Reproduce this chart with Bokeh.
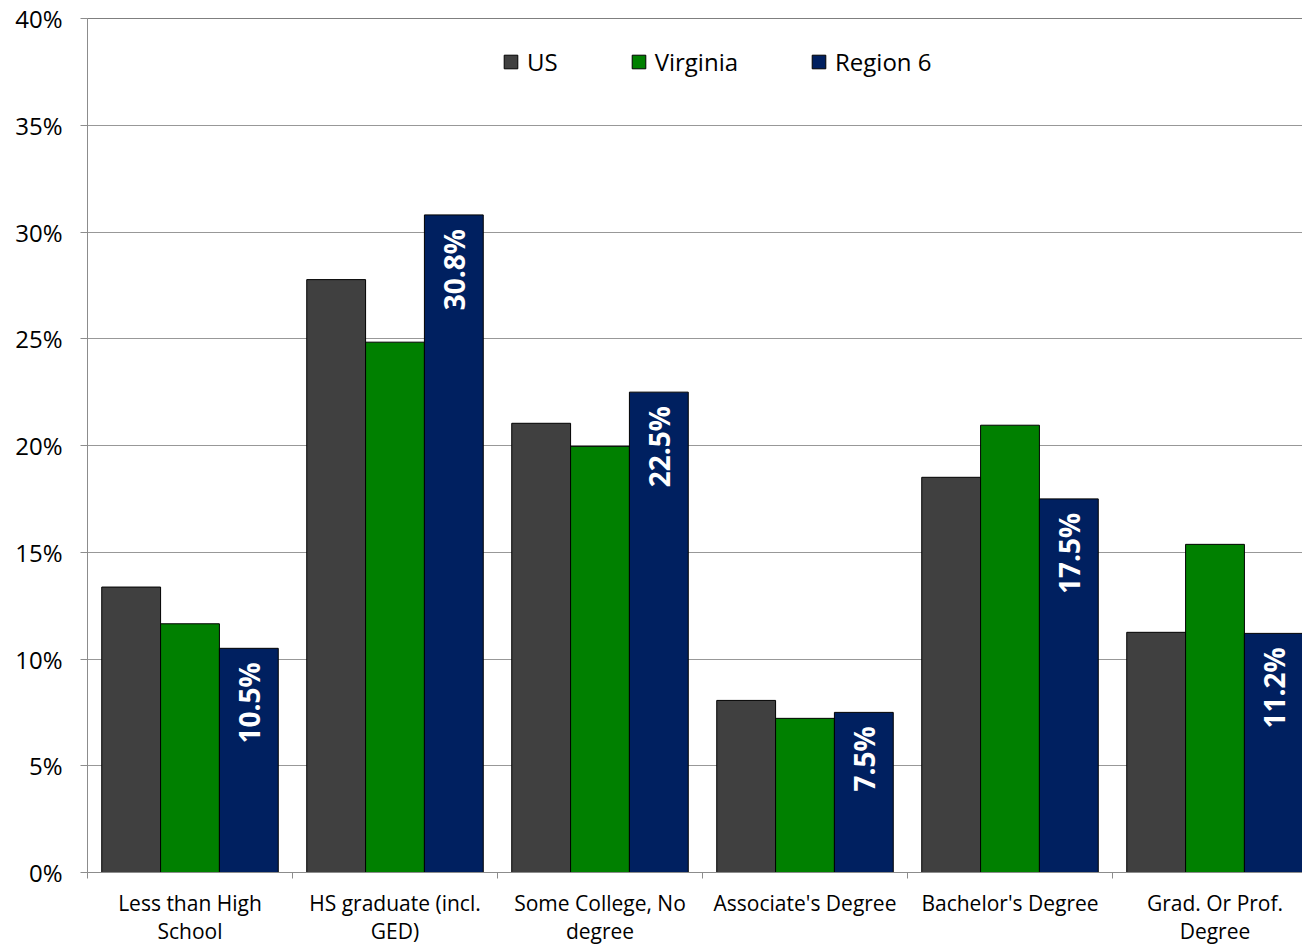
import math
from bokeh.plotting import figure
from bokeh.models import ColumnDataSource, Range1d, FixedTicker, Span, Legend, LegendItem
from bokeh.core.properties import value
from bokeh.embed import file_html
from bokeh.resources import INLINE

categories = ["Less than High\nSchool", "HS graduate (incl.\nGED)", "Some College, No\ndegree",
              "Associate's Degree", "Bachelor's Degree", "Grad. Or Prof.\nDegree"]
us = [13.37, 27.77, 21.04, 8.06, 18.51, 11.25]
virginia = [11.65, 24.84, 19.96, 7.22, 20.95, 15.37]
region6 = [10.5, 30.8, 22.5, 7.5, 17.5, 11.2]
series_names = ["US", "Virginia", "Region 6"]
colors = ["#404040", "#008000", "#002060"]
y_ticks = [0, 5, 10, 15, 20, 25, 30, 35, 40]

FONT = "Open Sans"
n = len(categories)
centers = [i + 0.5 for i in range(n)]
bw = 0.287
offsets = [-bw, 0.0, bw]

p = figure(output_backend="svg", toolbar_location=None,
           frame_width=1215, frame_height=854,
           min_border_left=87, min_border_right=0, min_border_top=18, min_border_bottom=70,
           x_range=Range1d(0, 1215 / 205), y_range=Range1d(0, 40))
p.outline_line_color = None
p.background_fill_color = "white"

renderers = []
for vals, off, col in zip([us, virginia, region6], offsets, colors):
    src = ColumnDataSource(dict(x=[c + off for c in centers], top=vals))
    r = p.vbar(x="x", top="top", width=bw, bottom=0, source=src,
               fill_color=col, line_color="black", line_width=1)
    renderers.append(r)

# data labels for Region 6
lab_src = ColumnDataSource(dict(x=[c + bw for c in centers], y=region6,
                                t=["%.1f%%" % v for v in region6]))
p.text(x="x", y="y", text="t", source=lab_src, angle=math.pi / 2,
       text_align="right", text_baseline="middle", y_offset=14,
       text_color="white", text_font=value(FONT), text_font_style="bold",
       text_font_size="28px")

# grid
p.xgrid.grid_line_color = None
p.ygrid.grid_line_color = "#989898"
p.ygrid.grid_line_width = 1
p.add_layout(Span(location=40, dimension="width", line_color="black", line_width=1))

# y axis
p.yaxis.ticker = FixedTicker(ticks=y_ticks, minor_ticks=[])
p.yaxis.major_label_overrides = {t: f"{t}%" for t in y_ticks}
p.yaxis.axis_line_color = "#8c8c8c"
p.yaxis.major_tick_line_color = "#8c8c8c"
p.yaxis.major_tick_out = 7
p.yaxis.major_tick_in = 0
p.yaxis.minor_tick_line_color = None
p.yaxis.major_label_standoff = 18
p.yaxis.major_label_text_font = FONT
p.yaxis.major_label_text_font_size = "24px"
p.yaxis.major_label_text_color = "black"

# x axis
p.xaxis.ticker = FixedTicker(ticks=centers, minor_ticks=[float(i) for i in range(n)])
p.xaxis.major_label_overrides = {c: lab for c, lab in zip(centers, categories)}
p.xaxis.axis_line_color = "#8c8c8c"
p.xaxis.major_tick_line_color = None
p.xaxis.major_tick_out = 0
p.xaxis.major_tick_in = 0
p.xaxis.minor_tick_line_color = "#8c8c8c"
p.xaxis.minor_tick_out = 6
p.xaxis.minor_tick_in = 0
p.xaxis.major_label_standoff = 10
p.xaxis.major_label_text_font = FONT
p.xaxis.major_label_text_font_size = "21px"
p.xaxis.major_label_text_line_height = 1.02
p.xaxis.major_label_text_color = "black"

legend = Legend(items=[LegendItem(label=nm, renderers=[r]) for nm, r in zip(series_names, renderers)],
                orientation="horizontal", location=(415, 794),
                glyph_width=17, glyph_height=17, label_standoff=8, spacing=72,
                padding=0, margin=0, border_line_color=None, background_fill_alpha=0,
                label_text_font=FONT, label_text_font_size="24px", label_text_color="black")
p.add_layout(legend)

open("out.html", "w").write(file_html(p, INLINE))
